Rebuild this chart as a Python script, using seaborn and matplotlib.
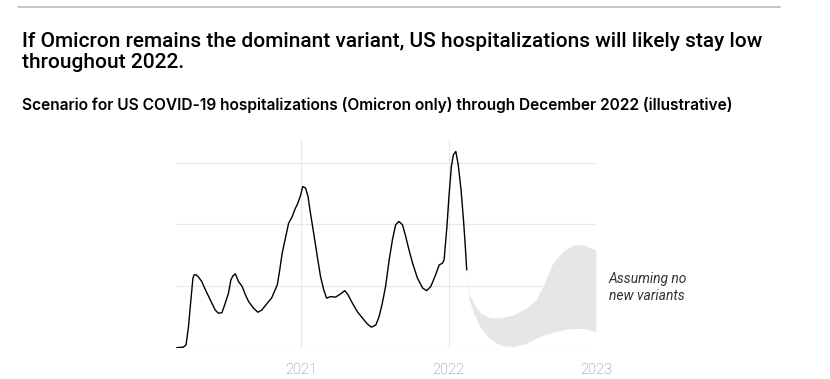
import pandas as pd
import numpy as np
import matplotlib.pyplot as plt
import matplotlib.dates as mdates
import seaborn as sns

# US COVID-19 hospitalizations, thousands
dates = ['2020-02-28', '2020-03-15', '2020-03-22', '2020-03-28', '2020-04-03', '2020-04-08',
         '2020-04-11', '2020-04-16', '2020-04-22', '2020-04-30', '2020-05-09', '2020-05-17',
         '2020-05-25', '2020-06-02', '2020-06-10', '2020-06-19', '2020-06-27', '2020-07-05',
         '2020-07-11', '2020-07-16', '2020-07-22', '2020-07-30', '2020-08-08', '2020-08-16',
         '2020-08-24', '2020-09-05', '2020-09-16', '2020-09-26', '2020-10-09', '2020-10-20',
         '2020-11-03', '2020-11-09', '2020-11-15', '2020-11-23', '2020-12-01', '2020-12-10',
         '2020-12-16', '2020-12-24', '2020-12-31', '2021-01-05', '2021-01-12', '2021-01-18',
         '2021-01-24', '2021-02-01', '2021-02-10', '2021-02-18', '2021-02-26', '2021-03-05',
         '2021-03-15', '2021-03-27', '2021-04-09', '2021-04-19', '2021-04-27', '2021-05-08',
         '2021-05-20', '2021-06-02', '2021-06-14', '2021-06-24', '2021-07-05', '2021-07-13',
         '2021-07-21', '2021-07-29', '2021-08-07', '2021-08-15', '2021-08-23', '2021-08-31',
         '2021-09-09', '2021-09-17', '2021-09-25', '2021-10-04', '2021-10-16', '2021-10-29',
         '2021-11-08', '2021-11-18', '2021-11-30', '2021-12-09', '2021-12-17', '2021-12-21',
         '2021-12-28', '2022-01-02', '2022-01-08', '2022-01-13', '2022-01-19', '2022-01-25',
         '2022-02-01', '2022-02-07', '2022-02-11', '2022-02-15']
hosp = [0.2, 0.6, 2.4, 17.3, 38.9, 56.5,
        59.2, 59.2, 57.3, 53.7, 47.0, 41.6,
        36.2, 30.8, 28.1, 28.6, 36.2, 44.3,
        55.1, 58.3, 60.0, 53.7, 49.7, 43.0,
        37.5, 32.2, 28.9, 30.8, 36.2, 40.5,
        51.1, 63.2, 76.7, 88.9, 101.0, 106.4,
        111.8, 117.3, 124.0, 130.7, 129.4, 122.6,
        109.2, 93.0, 74.0, 57.8, 47.0, 40.3,
        41.6, 41.1, 43.8, 46.4, 43.0, 36.2,
        29.4, 24.1, 19.4, 16.8, 18.6, 25.4,
        36.2, 49.7, 71.3, 87.5, 99.7, 102.4,
        99.7, 90.2, 79.4, 68.6, 56.5, 48.4,
        46.4, 49.7, 59.2, 67.3, 68.6, 71.3,
        98.3, 122.6, 146.9, 156.4, 159.1, 148.3,
        128.0, 103.7, 84.8, 63.2]

# scenario band, assuming no new variants
band_dates = ['2022-02-15', '2022-02-21', '2022-03-06', '2022-03-22', '2022-04-12', '2022-05-07',
              '2022-06-09', '2022-07-12', '2022-08-06', '2022-08-26', '2022-09-16', '2022-10-11',
              '2022-11-05', '2022-11-30', '2023-01-01']
band_high = [63.2, 44.3, 34.8, 28.1, 24.6, 24.1, 26.7, 32.2, 38.9, 52.4, 68.6, 78.0, 83.5, 83.5, 79.4]
band_low = [63.2, 39.0, 27.0, 16.0, 7.9, 2.4, 1.2, 3.5, 7.9, 10.5, 12.8, 14.6, 15.7, 15.7, 13.2]

years = ['2021-01-01', '2022-01-01', '2023-01-01']
year_labels = ['2021', '2022', '2023']

df = pd.DataFrame({'date': pd.to_datetime(dates), 'hosp': hosp})
band = pd.DataFrame({'date': pd.to_datetime(band_dates), 'high': band_high, 'low': band_low})

sns.set_theme(style='white')
plt.rcParams['font.family'] = ['Roboto', 'DejaVu Sans']

fig = plt.figure(figsize=(8.3, 3.79), dpi=100)
ax = fig.add_axes([0.212, 0.082, 0.506, 0.549])

grid_c = '#e9e9e9'
ax.fill_between(band['date'], band['low'], band['high'], color='#e6e6e6', lw=0, zorder=2)
sns.lineplot(data=df, x='date', y='hosp', color='black', lw=1.0, ax=ax, zorder=3)

ax.set_xlim(pd.Timestamp('2020-02-26'), pd.Timestamp('2023-01-01'))
ax.set_ylim(0, 168.5)
ax.set_yticks([0, 50, 100, 150])
ax.set_yticklabels([])
ax.set_xticks(pd.to_datetime(years))
ax.set_xticklabels(year_labels)
ax.tick_params(axis='x', length=5, width=0.8, color=grid_c, labelsize=10.5,
               labelcolor='#808080', pad=5.5)
ax.tick_params(axis='y', length=0)
ax.grid(True, color=grid_c, lw=0.8)
ax.set_axisbelow(True)
for s in ax.spines.values():
    s.set_visible(False)
ax.set_xlabel('')
ax.set_ylabel('')
fig.canvas.draw()
ax.xaxis.get_gridlines()[-1].set_visible(False)
for lbl in ax.get_xticklabels():
    lbl.set_fontweight('light')

ax.text(1.03, 0.29, 'Assuming no\nnew variants', transform=ax.transAxes, fontsize=10,
        style='italic', color='#333333', va='center', ha='left', linespacing=1.3)

fig.add_artist(plt.Line2D([0.0217, 0.94], [0.9815, 0.9815], color='#bbbbbb', lw=1.2))
fig.text(0.0265, 0.876, 'If Omicron remains the dominant variant, US hospitalizations will likely stay low',
         fontsize=15, color='black', va='baseline', ha='left', fontweight='medium')
fig.text(0.0265, 0.8214, 'throughout 2022.',
         fontsize=15, color='black', va='baseline', ha='left', fontweight='medium')
fig.text(0.0265, 0.7098, 'Scenario for US COVID-19 hospitalizations (Omicron only) through December 2022 (illustrative)',
         fontsize=11.2, color='black', va='baseline', ha='left', fontweight='semibold',
         family=['Inter', 'DejaVu Sans'])

fig.savefig('out.png', dpi=100)
